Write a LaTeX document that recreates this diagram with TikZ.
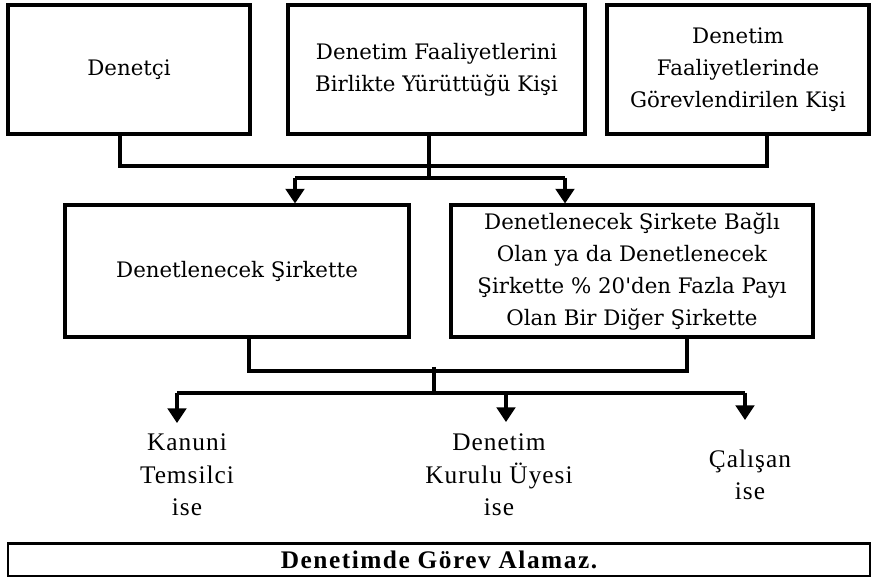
\documentclass[tikz,border=0pt]{standalone}
\usepackage{fontspec}
\setmainfont{DejaVu Serif}[Ligatures=TeXOff]
\newfontfamily\labelfont[LetterSpace=4]{Liberation Serif}
\newfontfamily\resultfont[LetterSpace=6]{Liberation Serif}
\usetikzlibrary{arrows.meta}

\begin{document}
\begin{tikzpicture}[x=0.75pt,y=-0.75pt,
  box/.style={draw, line width=2.3pt, align=center, inner sep=0pt,
    font=\fontsize{16}{24}\selectfont},
  wire/.style={line width=2.3pt},
  arr/.style={wire, -{Triangle[width=14pt,length=11pt]}},
  lbl/.style={align=center, inner sep=0pt, font=\labelfont\fontsize{19}{24.3}\selectfont}]

\fill[white] (0,0) rectangle (872,577);
\useasboundingbox (0,0) rectangle (872,577);

% top row: who is concerned
\node[box, minimum width={242*0.75pt}, minimum height={129*0.75pt}] (den) at (129,69.5) {Denetçi};
\node[box, minimum width={297*0.75pt}, minimum height={129*0.75pt}] (bir) at (436.5,69.5)
  {Denetim Faaliyetlerini\\Birlikte Yürüttüğü Kişi};
\node[box, minimum width={262*0.75pt}, minimum height={129*0.75pt}] (gor) at (738,69.5)
  {Denetim\\Faaliyetlerinde\\Görevlendirilen Kişi};

% middle row: where
\node[box, minimum width={344*0.75pt}, minimum height={132*0.75pt}] (sir) at (237,271) {Denetlenecek Şirkette};
\node[box, minimum width={362*0.75pt}, minimum height={132*0.75pt}] (bag) at (632,271)
  {Denetlenecek Şirkete Bağlı\\Olan ya da Denetlenecek\\Şirkette \% 20'den Fazla Payı\\Olan Bir Diğer Şirkette};

% bottom row: roles
\node[lbl] (kan) at (187,475) {Kanuni\\Temsilci\\ise};
\node[lbl] (kur) at (499,475) {Denetim\\Kurulu Üyesi\\ise};
\node[lbl] (cal) at (750,475) {Çalışan\\ise};

% conclusion bar
\node[draw, line width=1pt, minimum width={862*0.75pt}, minimum height={32*0.75pt}, inner sep=0pt,
  font=\resultfont\bfseries\fontsize{19}{20}\selectfont] (res) at (439,560) {Denetimde Görev Alamaz.};
\draw[line width=2.6pt] (res.north west) -- (res.north east);

% upper bus
\coordinate (topL) at (120,166);
\coordinate (topR) at (767,166);
\coordinate (split) at (429,178);
\coordinate (splitL) at (295,178);
\coordinate (splitR) at (565,178);
\draw[wire] (den.south -| topL) -- (topL) -- (topR) -- (topR |- gor.south);
\draw[wire] (bir.south -| split) -- (split);
\draw[wire] (splitL) -- (splitR);
\draw[arr] (splitL) -- (splitL |- sir.north);
\draw[arr] (splitR) -- (splitR |- bag.north);

% lower bus
\coordinate (midL) at (249,371);
\coordinate (midR) at (687,371);
\coordinate (tickT) at (434,367);
\coordinate (tickB) at (434,395);
\coordinate (aL) at (177,393);
\coordinate (aM) at (506,393);
\coordinate (aR) at (745,393);
\draw[wire] (sir.south -| midL) -- (midL) -- (midR) -- (midR |- bag.south);
\draw[wire] (tickT) -- (tickB);
\draw[wire] (aL) -- (aR);
\draw[arr] (aL) -- ++(0,30);
\draw[arr] (aM) -- ++(0,29);
\draw[arr] (aR) -- ++(0,27);
\end{tikzpicture}
\end{document}
